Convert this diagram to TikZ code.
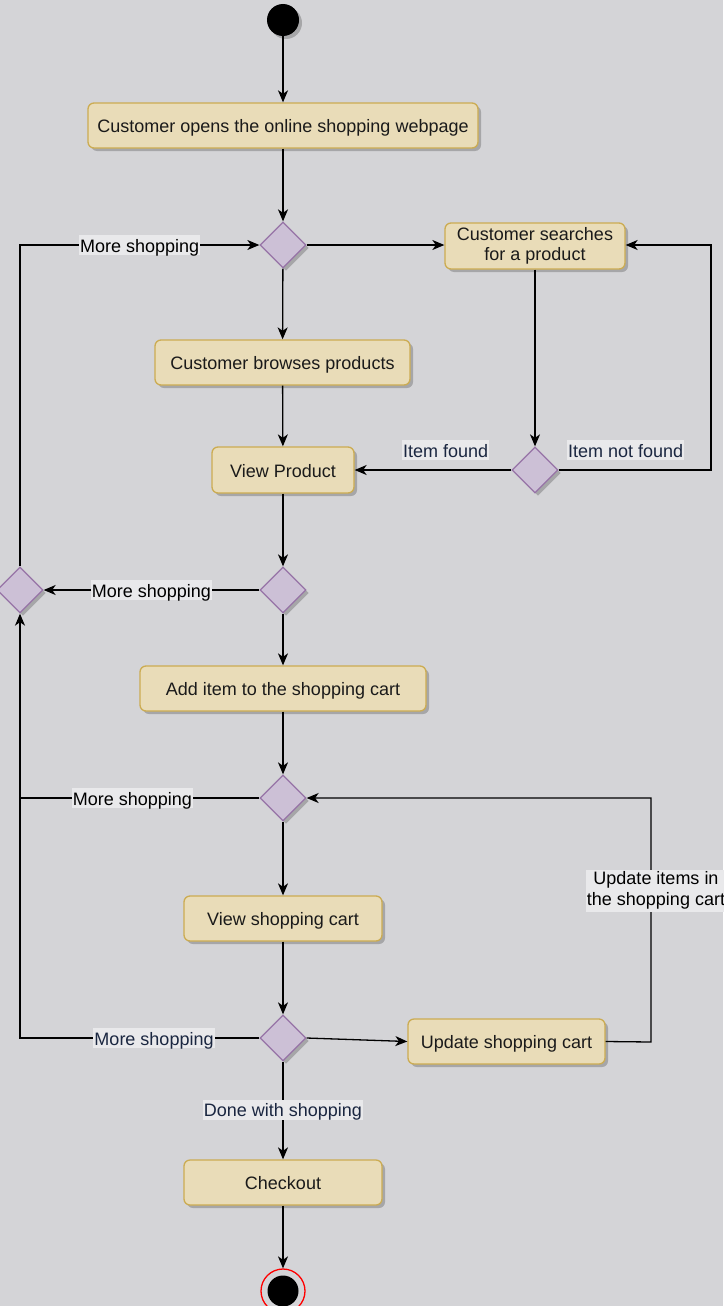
\documentclass[tikz,border=0pt]{standalone}
\usepackage{fontspec}
\setmainfont{Liberation Sans}
\usetikzlibrary{arrows.meta,shapes.geometric,shadows,calc}

\definecolor{bgcol}{RGB}{212,212,215}
\definecolor{boxfill}{RGB}{233,220,184}
\definecolor{boxline}{RGB}{204,172,82}
\definecolor{decfill}{RGB}{204,192,214}
\definecolor{decline}{RGB}{150,115,166}
\definecolor{shadowcol}{RGB}{166,166,168}
\definecolor{lblbg}{RGB}{233,233,235}
\definecolor{navy}{RGB}{26,38,64}
\definecolor{txt}{RGB}{26,26,26}

\tikzset{
  shade3/.style={drop shadow={shadow xshift=3pt,shadow yshift=-3pt,fill=shadowcol,opacity=1}},
  actbase/.style={draw=boxline,fill=boxfill,line width=1.3pt,rounded corners=6pt,
    inner sep=0pt,align=center,text=txt,font=\fontsize{18}{21}\selectfont,shade3},
  actbox/.style={actbase,text height=16pt,text depth=2pt},
  decision/.style={diamond,draw=decline,fill=decfill,line width=1.3pt,inner sep=0pt,
    minimum width=46pt,minimum height=46pt,shade3},
  flow/.style={line width=1.3pt,-{Stealth[length=12pt,width=10pt,inset=3.5pt]}},
  plain/.style={line width=1.3pt},
  lbl/.style={fill=lblbg,inner xsep=1pt,inner ysep=1pt,text=black,
    text height=16pt,text depth=2pt,font=\fontsize{18}{21}\selectfont},
  lbldark/.style={lbl,text=navy},
  lbltwo/.style={fill=lblbg,inner xsep=1pt,inner ysep=2pt,text=black,
    align=center,font=\fontsize{18}{21}\selectfont}
}

\begin{document}
\begin{tikzpicture}[x=1pt,y=-1pt]
\useasboundingbox (0,0) rectangle (723,1306);
\fill[bgcol] (0,0) rectangle (723,1306);

% start and end points
\node[circle,fill=black,minimum size=32pt,inner sep=0pt,shade3] (start) at (283,20) {};
\node[circle,draw=red,line width=1.3pt,minimum size=44pt,inner sep=0pt] (end) at (283,1291) {};
\fill[black] (end.center) circle (15.5pt);

% activities
\node[actbox,minimum width=390pt,minimum height=45pt] (open) at (283,125.5) {Customer opens the online shopping webpage};
\node[actbase,minimum width=180pt,minimum height=46pt,font=\fontsize{18}{20.5}\selectfont] (search) at (535,246) {Customer searches\\for a product};
\node[actbox,minimum width=255pt,minimum height=45pt] (browse) at (282.5,362.5) {Customer browses products};
\node[actbox,minimum width=142pt,minimum height=46pt] (view) at (283,470) {View Product};
\node[actbox,minimum width=286pt,minimum height=45pt] (add) at (283,688.5) {Add item to the shopping cart};
\node[actbox,minimum width=198pt,minimum height=45pt] (cart) at (283,918.5) {View shopping cart};
\node[actbox,minimum width=197pt,minimum height=45pt] (upd) at (506.5,1041.5) {Update shopping cart};
\node[actbox,minimum width=198pt,minimum height=45pt] (checkout) at (283,1182.5) {Checkout};

% decisions
\node[decision] (d1) at (283,245) {};
\node[decision] (d2) at (535,470) {};
\node[decision] (d3) at (283,590) {};
\node[decision] (dl) at (20,590) {};
\node[decision] (d4) at (283,798) {};
\node[decision] (d5) at (283,1038) {};

% loop corners
\coordinate (rloop) at (711,470);
\coordinate (cloop) at (651,1042);
\coordinate (join4) at (20,798);

% main flow
\draw[flow] (start) -- (open);
\draw[flow] (open) -- (d1);
\draw[flow] (d1) -- (search.west |- d1);
\draw[flow] (d1) -- (browse);
\draw[flow] (browse) -- (view);
\draw[flow] (search) -- (d2);
\draw[flow] (d2.west) -- node[lbldark,pos=0.42,above=9pt]{Item found} (view.east);
\draw[flow] (d2.east) -- node[lbldark,pos=0.44,above=9pt]{Item not found} (rloop) |- (search.east |- d1);
\draw[flow] (view) -- (d3);
\draw[flow] (d3.west) -- node[lbl,pos=0.5]{More shopping} (dl.east);
\draw[flow] (dl.north) |- node[lbl,pos=0.75]{More shopping} (d1.west);
\draw[flow] (d3) -- (add);
\draw[flow] (add) -- (d4);
\draw[plain] (d4.west) -- node[lbl,pos=0.53]{More shopping} (join4);
\draw[flow] (d5.west) -| node[lbldark,pos=0.22]{More shopping} (dl.south);
\draw[flow] (d4) -- (cart);
\draw[flow] (cart) -- (d5);
\draw[flow] (d5.east) -- (upd.west);
\draw[flow] (upd.east) -- (cloop) |- node[lbltwo,pos=0.31,xshift=5pt]{Update items in\\the shopping cart} (d4.east);
\draw[flow] (d5) -- node[lbldark,pos=0.49]{Done with shopping} (checkout);
\draw[flow] (checkout) -- (end);
\end{tikzpicture}
\end{document}
